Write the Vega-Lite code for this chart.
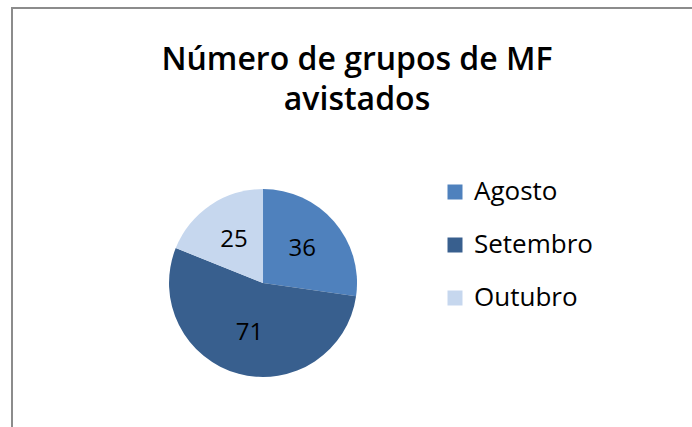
{
  "$schema": "https://vega.github.io/schema/vega-lite/v6.json",
  "width": 692,
  "height": 427,
  "autosize": {"type": "fit", "contains": "padding"},
  "padding": {"left": 12, "top": 8, "right": -10, "bottom": -10},
  "background": "white",
  "config": {"view": {"stroke": "#8c8c8c", "strokeWidth": 2}},
  "title": {
    "text": ["Número de grupos de MF", "avistados"],
    "font": "Open Sans",
    "fontSize": 32,
    "fontWeight": 600,
    "color": "black",
    "lineHeight": 40,
    "anchor": "middle",
    "baseline": "alphabetic",
    "offset": -134
  },
  "data": {
    "values": [
      {"mes": "Agosto", "grupos": 36, "ordem": 1},
      {"mes": "Setembro", "grupos": 71, "ordem": 2},
      {"mes": "Outubro", "grupos": 25, "ordem": 3}
    ]
  },
  "encoding": {
    "theta": {"field": "grupos", "type": "quantitative", "stack": true},
    "order": {"field": "ordem", "type": "quantitative"},
    "x": {"datum": 0.3638, "type": "quantitative", "scale": {"domain": [0, 1]}, "axis": null},
    "y": {"datum": 0.359, "type": "quantitative", "scale": {"domain": [0, 1]}, "axis": null}
  },
  "layer": [
    {
      "mark": {"type": "arc", "outerRadius": 94},
      "encoding": {
        "color": {
          "field": "mes",
          "type": "nominal",
          "sort": ["Agosto", "Setembro", "Outubro"],
          "scale": {"domain": ["Agosto", "Setembro", "Outubro"], "range": ["#4F81BD", "#385F8E", "#C6D7EE"]},
          "legend": {
            "title": null,
            "orient": "none",
            "legendX": 430,
            "legendY": 171,
            "padding": 0,
            "symbolType": "square",
            "symbolSize": 225,
            "symbolStrokeWidth": 0,
            "labelFont": "Open Sans",
            "labelFontSize": 26,
            "labelColor": "black",
            "labelOffset": 6,
            "rowPadding": 27,
            "labelLimit": 300
          }
        }
      }
    },
    {
      "mark": {"type": "text", "radius": 52, "font": "Open Sans", "fontSize": 24, "color": "black"},
      "encoding": {
        "detail": {"field": "mes", "type": "nominal"},
        "text": {"field": "grupos", "type": "quantitative"}
      }
    }
  ]
}
